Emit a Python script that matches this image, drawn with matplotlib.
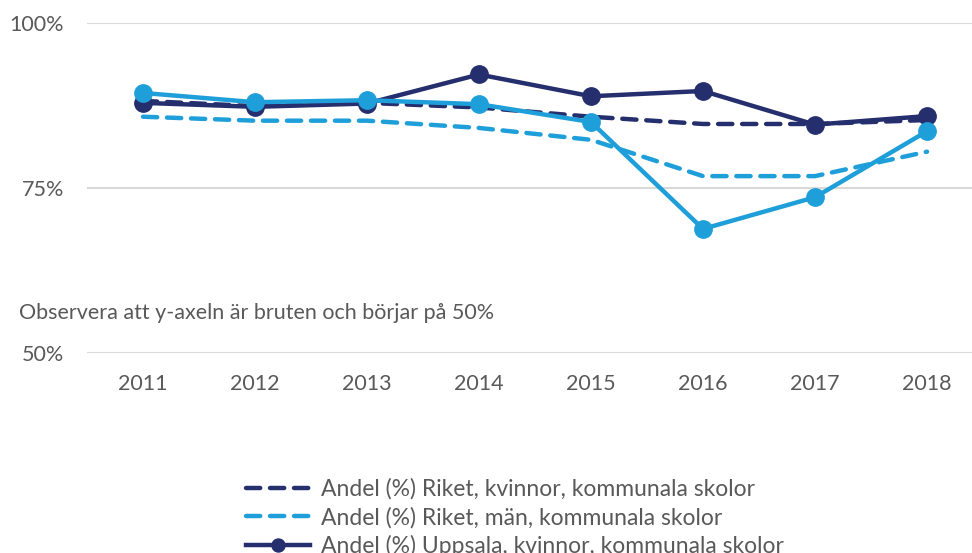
import matplotlib
matplotlib.use("Agg")
import matplotlib.pyplot as plt

years = ["2011", "2012", "2013", "2014", "2015", "2016", "2017", "2018"]
riket_kvinnor = [88.2, 87.4, 87.9, 87.2, 85.8, 84.7, 84.7, 85.3]
riket_man = [85.8, 85.2, 85.2, 84.1, 82.3, 76.8, 76.8, 80.5]
uppsala_kvinnor = [87.9, 87.3, 87.8, 92.2, 88.9, 89.7, 84.6, 85.9]
uppsala_man = [89.4, 88.0, 88.3, 87.7, 85.0, 68.8, 73.6, 83.6]
labels = [
    "Andel (%) Riket, kvinnor, kommunala skolor",
    "Andel (%) Riket, män, kommunala skolor",
    "Andel (%) Uppsala, kvinnor, kommunala skolor",
    "Andel (%) Uppsala, män, kommunala skolor",
]
yticks = [50, 75, 100]
ytick_labels = ["50%", "75%", "100%"]
note = "Observera att y-axeln är bruten och börjar på 50%"

NAVY = "#262f6e"
LIGHT = "#1f9fd9"
TXT = "#595959"

plt.rcParams["font.family"] = ["Lato", "DejaVu Sans"]

fig = plt.figure(figsize=(9.72, 5.53), dpi=100)
ax = fig.add_axes([87 / 972, 200 / 553, 896 / 972, 330 / 553])
x = list(range(len(years)))

dash = dict(linestyle=(0, (3.2, 2.2)), dash_capstyle="round", lw=3.2)
ax.plot(x, riket_kvinnor, color=NAVY, label=labels[0], clip_on=False, **dash)
ax.plot(x, riket_man, color=LIGHT, label=labels[1], clip_on=False, **dash)
ax.plot(x, uppsala_kvinnor, color=NAVY, lw=3.2, marker="o", ms=12.5,
        label=labels[2], clip_on=False)
ax.plot(x, uppsala_man, color=LIGHT, lw=3.2, marker="o", ms=12.5,
        label=labels[3], clip_on=False)

ax.set_xlim(-0.5, 7.5)
ax.set_ylim(50, 100)
ax.set_xticks(x)
ax.set_xticklabels(years)
ax.set_yticks(yticks)
ax.set_yticklabels(ytick_labels)
ax.tick_params(axis="both", length=0, labelsize=15.5, labelcolor=TXT)
ax.tick_params(axis="y", pad=16.5)
ax.tick_params(axis="x", pad=15)
ax.grid(axis="y", color="#d9d9d9", lw=1.5)
ax.set_axisbelow(True)
for s in ax.spines.values():
    s.set_visible(False)

fig.text(19 / 972, 1 - 313 / 553, note, fontsize=15.5, color=TXT, va="center", ha="left")

leg = fig.legend(loc="upper center", bbox_to_anchor=(515 / 972, 1 - 460 / 553),
                 ncol=1, frameon=False, fontsize=16.5, handlelength=2.8,
                 handletextpad=0.48, labelspacing=0.3, borderpad=0.3,
                 markerscale=0.75)
for t in leg.get_texts():
    t.set_color(TXT)

fig.savefig("out.png", dpi=100)
